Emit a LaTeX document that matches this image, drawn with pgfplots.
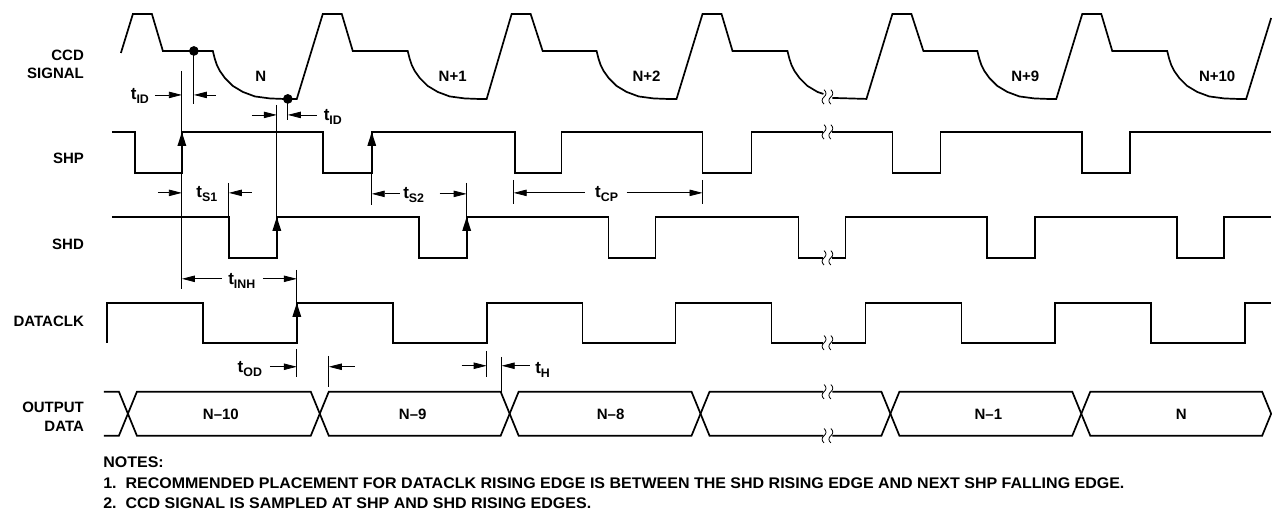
\documentclass[border=0pt]{standalone}
\usepackage{fontspec}
\setmainfont{Liberation Sans}
\usepackage{pgfplots}
\pgfplotsset{compat=1.18}
\usetikzlibrary{arrows.meta}
\newcommand{\lf}{\fontsize{7.5}{9}\selectfont\bfseries}
\newcommand{\nf}{\fontsize{7.7}{9}\selectfont\bfseries}
\newcommand{\tl}[1]{{\fontsize{8.5}{9}\selectfont\bfseries t\raisebox{-0.45ex}{\fontsize{6.2}{7}\selectfont #1}}}
\tikzset{
  sig/.style={black, line width=0.85pt, line join=miter},
  ann/.style={black, line width=0.4pt},
  arr/.style={black, line width=0.4pt, -{Triangle[length=6.5pt,width=3.2pt]}},
  edgearr/.style={black, line width=0.85pt, -{Triangle[length=7pt,width=4.2pt]}},
}
\newcommand{\wave}{(0,3.6pt) .. controls (1.3pt,2.4pt) and (1.3pt,1.1pt) .. (0,0) .. controls (-1.3pt,-1.1pt) and (-1.3pt,-2.4pt) .. (0,-3.6pt)}
\newcommand{\brk}[1]{%
  \draw[line width=0.4pt,shift={(axis cs:828,#1)}] [shift={(-1.7pt,0)}] \wave;
  \draw[line width=0.4pt,shift={(axis cs:828,#1)}] [shift={(1.7pt,0)}] \wave;}
\begin{document}
\begin{tikzpicture}
\begin{axis}[
  scale only axis, width=636pt, height=256pt,
  xmin=0, xmax=1272, ymin=0, ymax=512, y dir=reverse,
  hide axis, clip=false,
]
\path (axis cs:0,0) rectangle (axis cs:1272,512);
% CCD SIGNAL
\addplot[sig, no marks] coordinates {(121,53)(133,14)(152,14)(163,51)(213,51)
 (215,59)(217,65)(220,71)(225,78)(233,86)(243,92)(255,96.5)(270,98.5)(283,99)(297,99)
 (323,14)(342,14)(353,51)(408,51)
 (410,59)(412,65)(415,71)(420,78)(428,86)(438,92)(450,96.5)(465,98.5)(478,99)(487,99)
 (512,14)(531,14)(543,51)(597,51)
 (599,59)(601,65)(604,71)(609,78)(617,86)(627,92)(639,96.5)(654,98.5)(667,99)(677,99)
 (703,14)(722,14)(733,51)(788,51)
 (790,59)(792,65)(795,71)(800,78)(808,86)(818,92)(824,94)};
\addplot[sig, no marks] coordinates {(833,98)(867,99)(893,14)(912,14)(924,51)(978,51)
 (980,59)(982,65)(985,71)(990,78)(998,86)(1008,92)(1020,96.5)(1035,98.5)(1048,99)(1057,99)
 (1083,14)(1102,14)(1113,51)(1168,51)
 (1170,59)(1172,65)(1175,71)(1180,78)(1188,86)(1198,92)(1210,96.5)(1225,98.5)(1238,99)(1247,99)
 (1272,18)};
\addplot[only marks, mark=*, mark size=2.2pt, black] coordinates {(194,51)(288,99)};
% SHP
\addplot[sig, no marks] coordinates {(112,132)(135,132)(135,173)(182,173)(182,132)(323,132)(323,173)(372,173)(372,132)
 (515,132)(515,173)(562,173)(562,132)(703,132)(703,173)(752,173)(752,132)(824,132)};
\addplot[sig, no marks] coordinates {(833,132)(893,132)(893,173)(941,173)(941,132)(1083,132)(1083,173)(1131,173)(1131,132)(1272,132)};
% SHD
\addplot[sig, no marks] coordinates {(112,217)(229,217)(229,258)(277,258)(277,217)(419,217)(419,258)(467,258)(467,217)
 (609,217)(609,258)(656,258)(656,217)(799,217)(799,258)(824,258)};
\addplot[sig, no marks] coordinates {(833,258)(846,258)(846,217)(988,217)(988,258)(1036,258)(1036,217)(1178,217)(1178,258)(1225,258)(1225,217)(1272,217)};
% DATACLK
\addplot[sig, no marks] coordinates {(107,343)(107,303)(203,303)(203,343)(297,343)(297,303)(393,303)(393,343)(487,343)(487,303)
 (583,303)(583,343)(676,343)(676,303)(772,303)(772,343)(824,343)};
\addplot[sig, no marks] coordinates {(833,343)(866,343)(866,303)(962,303)(962,343)(1056,343)(1056,303)(1152,303)(1152,343)(1246,343)(1246,303)(1272,303)};
% OUTPUT DATA
\addplot[sig, no marks] coordinates {(104,392)(119,392)(128,414)(119,436)(104,436)};
\addplot[sig, no marks] coordinates {(128,414)(137,392)(311,392)(320,414)(311,436)(137,436)(128,414)};
\addplot[sig, no marks] coordinates {(320,414)(329,392)(501,392)(510,414)(501,436)(329,436)(320,414)};
\addplot[sig, no marks] coordinates {(510,414)(519,392)(692,392)(701,414)(692,436)(519,436)(510,414)};
\addplot[sig, no marks] coordinates {(824,392)(710,392)(701,414)(710,436)(824,436)};
\addplot[sig, no marks] coordinates {(833,392)(882,392)(891,414)(882,436)(833,436)};
\addplot[sig, no marks] coordinates {(891,414)(900,392)(1073,392)(1082,414)(1073,436)(900,436)(891,414)};
\addplot[sig, no marks] coordinates {(1082,414)(1091,392)(1263,392)(1272,414)(1263,436)(1091,436)(1082,414)};
% break marks
\brk{97}\brk{132}\brk{258}\brk{343}\brk{392}\brk{436}
% edge arrows
\draw[edgearr] (axis cs:182,160) -- (axis cs:182,132);
\draw[edgearr] (axis cs:372,160) -- (axis cs:372,132);
\draw[edgearr] (axis cs:277,245) -- (axis cs:277,217);
\draw[edgearr] (axis cs:467,245) -- (axis cs:467,217);
\draw[edgearr] (axis cs:297,330) -- (axis cs:297,303);
% annotation lines
\draw[ann] (axis cs:182,71) -- (axis cs:182,289);
\draw[ann] (axis cs:194,51) -- (axis cs:194,104);
\draw[ann] (axis cs:277,105) -- (axis cs:277,217);
\draw[ann] (axis cs:288,99) -- (axis cs:288,120);
\draw[ann] (axis cs:229,183) -- (axis cs:229,217);
\draw[ann] (axis cs:372,173) -- (axis cs:372,205);
\draw[ann] (axis cs:467,183) -- (axis cs:467,217);
\draw[ann] (axis cs:514,180) -- (axis cs:514,204);
\draw[ann] (axis cs:703,180) -- (axis cs:703,204);
\draw[ann] (axis cs:297,270) -- (axis cs:297,303);
\draw[ann] (axis cs:297,349) -- (axis cs:297,377);
\draw[ann] (axis cs:329,356) -- (axis cs:329,387);
\draw[ann] (axis cs:487,351) -- (axis cs:487,377);
\draw[ann] (axis cs:502,357) -- (axis cs:502,392);
% arrows
\draw[arr] (axis cs:155,95) -- (axis cs:182,95);
\draw[arr] (axis cs:216,95) -- (axis cs:194,95);
\draw[arr] (axis cs:252,115) -- (axis cs:277,115);
\draw[arr] (axis cs:317,115) -- (axis cs:288,115);
\draw[arr] (axis cs:158,193) -- (axis cs:182,193);
\draw[arr] (axis cs:252,193) -- (axis cs:229,193);
\draw[arr] (axis cs:400,194) -- (axis cs:372,194);
\draw[arr] (axis cs:440,194) -- (axis cs:467,194);
\draw[arr] (axis cs:585,193) -- (axis cs:514,193);
\draw[arr] (axis cs:627,193) -- (axis cs:703,193);
\draw[arr] (axis cs:222,279) -- (axis cs:182,279);
\draw[arr] (axis cs:263,279) -- (axis cs:297,279);
\draw[arr] (axis cs:270,367) -- (axis cs:297,367);
\draw[arr] (axis cs:355,367) -- (axis cs:329,367);
\draw[arr] (axis cs:462,366) -- (axis cs:487,366);
\draw[arr] (axis cs:530,366) -- (axis cs:502,366);
% timing labels
\node at (axis cs:140,96) {\tl{ID}};
\node at (axis cs:333,117) {\tl{ID}};
\node at (axis cs:207,194) {\tl{S1}};
\node at (axis cs:414,195) {\tl{S2}};
\node at (axis cs:607,194) {\tl{CP}};
\node at (axis cs:242,281) {\tl{INH}};
\node at (axis cs:250,369) {\tl{OD}};
\node at (axis cs:543,370) {\tl{H}};
% pixel labels
\node[font=\lf] at (axis cs:261,76) {N};
\node[font=\lf] at (axis cs:453,76) {N+1};
\node[font=\lf] at (axis cs:647,76) {N+2};
\node[font=\lf] at (axis cs:1026,76) {N+9};
\node[font=\lf] at (axis cs:1218,76) {N+10};
\node[font=\lf] at (axis cs:221,415) {N–10};
\node[font=\lf] at (axis cs:413,415) {N–9};
\node[font=\lf] at (axis cs:611,415) {N–8};
\node[font=\lf] at (axis cs:989,415) {N–1};
\node[font=\lf] at (axis cs:1182,415) {N};
% signal names
\node[font=\lf, anchor=east] at (axis cs:91,55) {CCD};
\node[font=\lf, anchor=east] at (axis cs:91,73) {SIGNAL};
\node[font=\lf, anchor=east] at (axis cs:91,158) {SHP};
\node[font=\lf, anchor=east] at (axis cs:91,245) {SHD};
\node[font=\lf, anchor=east] at (axis cs:91,322) {DATACLK};
\node[font=\lf, anchor=east] at (axis cs:91,408) {OUTPUT};
\node[font=\lf, anchor=east] at (axis cs:91,427) {DATA};
% notes
\node[font=\nf, anchor=west, inner sep=0pt] at (axis cs:103,463) {\scalebox{1.04}[1]{NOTES:}};
\node[font=\nf, anchor=west, inner sep=0pt] at (axis cs:103,483.5) {\scalebox{1.04}[1]{1.\ \ RECOMMENDED PLACEMENT FOR DATACLK RISING EDGE IS BETWEEN THE SHD RISING EDGE AND NEXT SHP FALLING EDGE.}};
\node[font=\nf, anchor=west, inner sep=0pt] at (axis cs:103,504) {\scalebox{1.04}[1]{2.\ \ CCD SIGNAL IS SAMPLED AT SHP AND SHD RISING EDGES.}};
\end{axis}
\end{tikzpicture}
\end{document}
